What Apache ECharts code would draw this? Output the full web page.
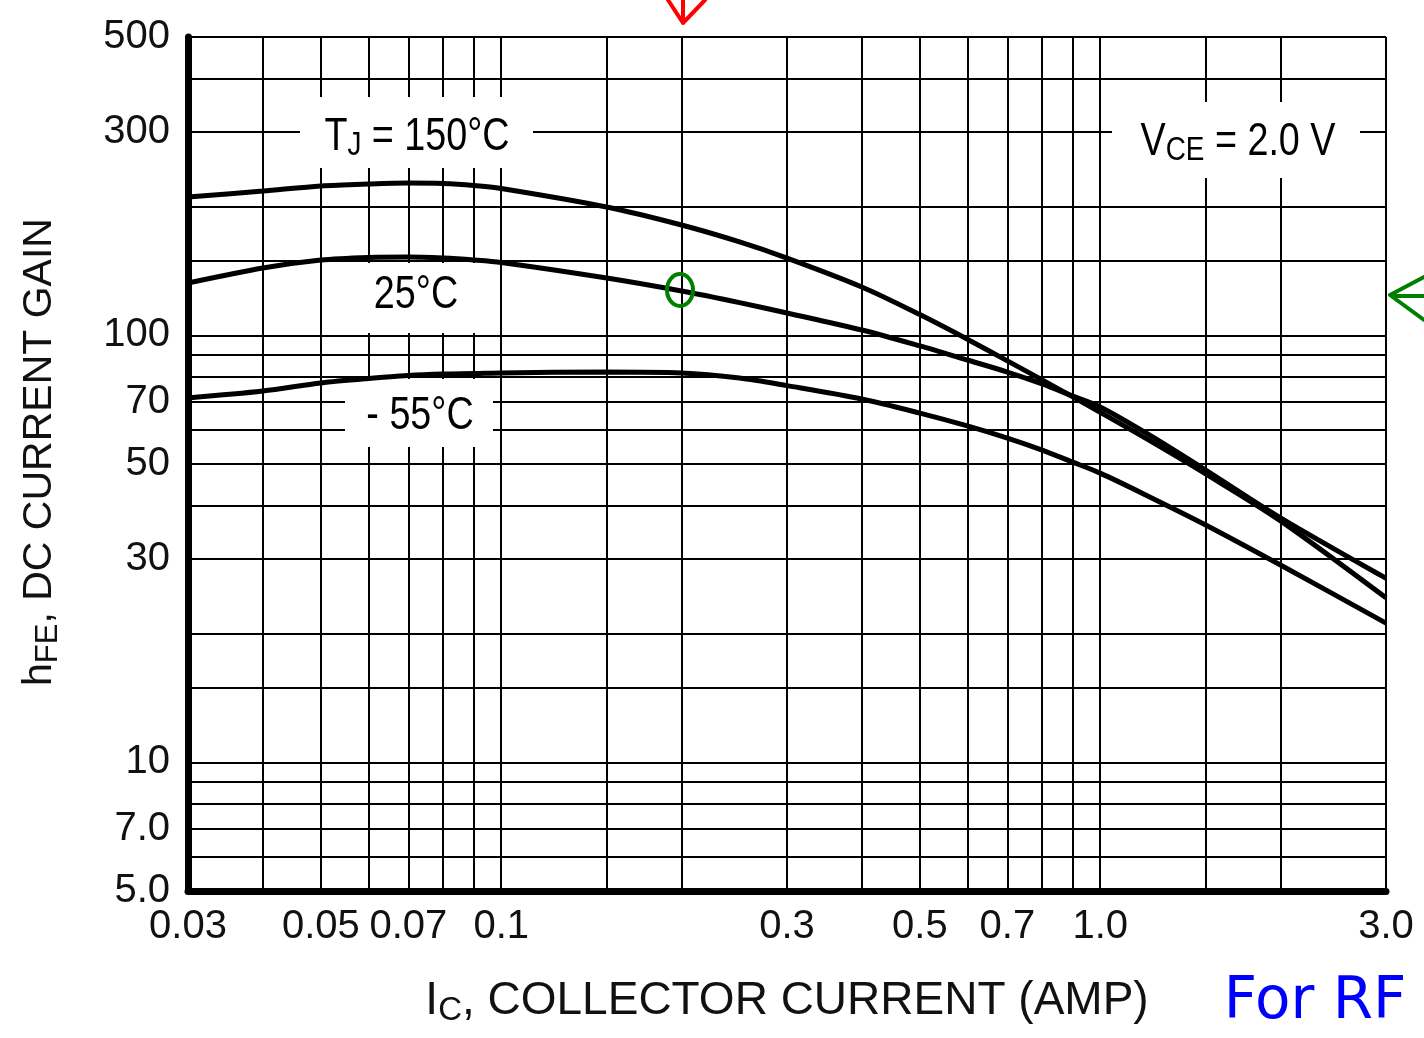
<!DOCTYPE html>
<html>
<head>
<meta charset="utf-8">
<script src="https://cdn.jsdelivr.net/npm/echarts@6/dist/echarts.min.js"></script>
<style>
  html, body { margin: 0; padding: 0; background: #fff; }
  #main { width: 1424px; height: 1038px; }
</style>
</head>
<body>
<div id="main"></div>
<script>
// collector current (A) and hFE for each junction temperature
var current = [0.03, 0.04, 0.05, 0.06, 0.07, 0.08, 0.09, 0.1, 0.15, 0.2, 0.25, 0.3, 0.4, 0.5, 0.6, 0.7, 0.8, 0.9, 1.0, 1.2, 1.5, 2.0, 3.0];
var gain150 = [211, 217.9, 223.9, 226.3, 227.5, 226.9, 224.5, 220.9, 199.9, 181.4, 165.6, 151.8, 129.9, 111.9, 98, 87.2, 78.7, 71.8, 66.1, 57.1, 47.4, 36.8, 24.3];
var gain25 = [132.7, 143.9, 150.2, 152.3, 152.7, 151.8, 150.2, 148.2, 136.3, 127.1, 119.4, 112.9, 103, 94.5, 87.6, 82.1, 77, 72.1, 68, 58.8, 48.4, 37.4, 27];
var gainM55 = [71.4, 74.1, 77.4, 79.3, 80.6, 81.2, 81.4, 81.7, 82.1, 81.7, 79.5, 76.3, 71, 65.8, 61.4, 57.5, 53.9, 50.5, 47.6, 42.1, 36, 29, 21.2];

// grid lines and labelled ticks
var xGrid = [0.03, 0.04, 0.05, 0.06, 0.07, 0.08, 0.09, 0.1, 0.15, 0.2, 0.3, 0.4, 0.5, 0.6, 0.7, 0.8, 0.9, 1.0, 1.5, 2.0, 3.0];
var xLabels = [0.03, 0.05, 0.07, 0.1, 0.3, 0.5, 0.7, 1.0, 3.0];
var yGrid = [5, 6, 7, 8, 9, 10, 15, 20, 30, 40, 50, 60, 70, 80, 90, 100, 150, 200, 300, 400, 500];
var yLabels = [5, 7, 10, 30, 50, 70, 100, 300, 500];

var sans = "'Liberation Sans', Arial, Helvetica, sans-serif";

function pairs(ys) {
  var out = [];
  for (var i = 0; i < current.length; i++) {
    out.push([current[i], ys[i]]);
  }
  return out;
}

function curve(name, ys) {
  return {
    name: name,
    type: "line",
    data: pairs(ys),
    smooth: 0.3,
    symbol: "none",
    silent: true,
    z: 3,
    lineStyle: { color: "#000", width: 5 }
  };
}

// rich styles: m = main text, s = subscript
function richStyle(size, subSize, lh, subLh) {
  return {
    m: { fontFamily: sans, fontSize: size, color: "#111", lineHeight: lh },
    s: { fontFamily: sans, fontSize: subSize, color: "#111", lineHeight: subLh, verticalAlign: "bottom" }
  };
}

function whiteBox(x1, y1, x2, y2) {
  return {
    type: "rect",
    z: 1,
    shape: { x: x1, y: y1, width: x2 - x1, height: y2 - y1 },
    style: { fill: "#fff" }
  };
}

function note(x, y, text) {
  return {
    type: "text",
    z: 10,
    x: x,
    y: y,
    scaleX: 0.82,
    style: { text: text, rich: richStyle(46, 34, 52, 24), align: "center", verticalAlign: "middle" }
  };
}

var myChart = echarts.init(document.getElementById("main"));
var option = {
  backgroundColor: "#fff",
  animation: false,
  grid: { left: 188, right: 38, top: 37, bottom: 147, containLabel: false, outerBoundsMode: "none" },
  xAxis: {
    type: "log",
    logBase: 10,
    min: 0.03,
    max: 3,
    name: "{m|I}{s|C}{m|, COLLECTOR CURRENT (AMP)}",
    nameLocation: "middle",
    nameGap: 84,
    nameTextStyle: { rich: richStyle(46, 33, 52, 22) },
    axisLine: { show: true, onZero: false, lineStyle: { color: "#000", width: 7 } },
    axisTick: { show: false, customValues: xGrid },
    axisLabel: {
      customValues: xLabels,
      margin: 16,
      fontFamily: sans,
      fontSize: 40,
      color: "#111",
      formatter: function(v) {
        if (v >= 1) return v.toFixed(1);
        return String(+v.toFixed(2));
      }
    },
    splitLine: { show: true, lineStyle: { color: "#000", width: 2 } }
  },
  yAxis: {
    type: "log",
    logBase: 10,
    min: 5,
    max: 500,
    name: "{m|h}{s|FE}{m|, DC CURRENT GAIN}",
    nameLocation: "middle",
    nameGap: 124,
    nameRotate: 90,
    nameTextStyle: { rich: richStyle(41, 31, 48, 20), padding: [0, 0, 0, 24] },
    axisLine: { show: true, onZero: false, lineStyle: { color: "#000", width: 7 } },
    axisTick: { show: false, customValues: yGrid },
    axisLabel: {
      customValues: yLabels,
      margin: 18,
      fontFamily: sans,
      fontSize: 40,
      color: "#111",
      formatter: function(v) {
        if (v < 10) return v.toFixed(1);
        return String(Math.round(v));
      }
    },
    splitLine: { show: true, lineStyle: { color: "#000", width: 2 } }
  },
  series: [
    curve("150°C", gain150),
    curve("25°C", gain25),
    curve("-55°C", gainM55)
  ],
  graphic: [
    // label gaps in the grid
    whiteBox(300, 97, 533, 168),
    whiteBox(350, 263, 478, 333),
    whiteBox(345, 379, 493, 447),
    whiteBox(1112, 102, 1360, 178),
    note(417, 137, "{m|T}{s|J}{m| = 150°C}"),
    note(416, 295, "{m|25°C}"),
    note(420, 416, "{m|- 55°C}"),
    note(1238, 142, "{m|V}{s|CE}{m| = 2.0 V}"),
    // hand drawn marks
    {
      type: "polyline",
      z: 20,
      shape: { points: [[668, 0], [683, 23], [705, 0]] },
      style: { stroke: "#ff0000", lineWidth: 4, fill: null, lineJoin: "round", lineCap: "round" }
    },
    {
      type: "line",
      z: 20,
      shape: { x1: 683, y1: 0, x2: 683, y2: 18 },
      style: { stroke: "#ff0000", lineWidth: 4, lineCap: "round" }
    },
    {
      type: "ellipse",
      z: 20,
      shape: { cx: 680, cy: 290, rx: 13, ry: 16 },
      style: { stroke: "#008000", lineWidth: 4, fill: null }
    },
    {
      type: "polyline",
      z: 20,
      shape: { points: [[1424, 277], [1390, 295], [1424, 320]] },
      style: { stroke: "#008000", lineWidth: 4, fill: null, lineJoin: "round", lineCap: "round" }
    },
    {
      type: "line",
      z: 20,
      shape: { x1: 1392, y1: 296, x2: 1424, y2: 296 },
      style: { stroke: "#008000", lineWidth: 4 }
    },
    {
      type: "text",
      z: 20,
      x: 1315,
      y: 1003,
      style: {
        text: "For RF",
        fill: "#0000ff",
        font: "58px 'DejaVu Sans', sans-serif",
        align: "center",
        verticalAlign: "middle"
      }
    }
  ]
};
myChart.setOption(option);
</script>
</body>
</html>
